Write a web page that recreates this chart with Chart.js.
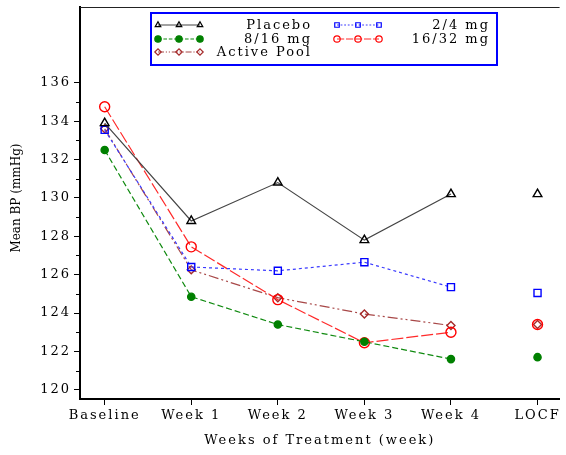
<!DOCTYPE html>
<html>
<head>
<meta charset="utf-8">
<script src="https://cdn.jsdelivr.net/npm/chart.js@4"></script>
<style>
  html, body { margin: 0; padding: 0; background: #fff; }
  #wrap { width: 566px; height: 455px; }
</style>
</head>
<body>
<div id="wrap"><canvas id="myChart" width="566" height="455"></canvas></div>
<script>
// valores
const semanas = ["Baseline", "Week 1", "Week 2", "Week 3", "Week 4", "LOCF"];
const placebo = [133.9, 128.8, 130.8, 127.8, 130.2, 130.2];
const dosis2a4 = [133.55, 126.4, 126.2, 126.65, 125.35, 125.05];
const dosis8a16 = [132.5, 124.85, 123.4, 122.5, 121.6, 121.7];
const dosis16a32 = [134.75, 127.45, 124.7, 122.45, 123.0, 123.4];
const activePool = [133.6, 126.25, 124.8, 123.95, 123.35, 123.4];
const ticksY = [120, 122, 124, 126, 128, 130, 132, 134, 136];
const ticksMenores = [121, 123, 125, 127, 129, 131, 133, 135];

const fuente = "'DejaVu Serif', 'Liberation Serif', serif";

function puntos(valores) {
  return valores.map((v, i) => ({ x: i, y: v }));
}

// LOCF va suelto, sin linea hacia el
const sinLineaLocf = {
  borderColor: (ctx) =>
    ctx.p1DataIndex === semanas.length - 1 ? "rgba(0,0,0,0)" : undefined,
};

function serie(nombre, valores, color, linea, dash, estilo, relleno, radio) {
  return {
    label: nombre,
    data: puntos(valores),
    borderColor: linea,
    borderWidth: 1.2,
    borderDash: dash,
    pointStyle: estilo,
    pointRadius: radio,
    pointBorderColor: color,
    pointBackgroundColor: relleno,
    pointBorderWidth: 1.4,
    tension: 0,
    segment: sinLineaLocf,
  };
}

const datasets = [
  serie("Placebo", placebo, "#000", "#444", [], "triangle", "rgba(0,0,0,0)", 5),
  serie("2/4 mg", dosis2a4, "#0000ff", "#3a3aff", [3, 3], "rect", "rgba(0,0,0,0)", 5),
  serie("8/16 mg", dosis8a16, "#008000", "#108a10", [6, 3], "circle", "#008000", 3.6),
  serie("16/32 mg", dosis16a32, "#ff0000", "#ff2a2a", [12, 3], "circle", "rgba(0,0,0,0)", 5),
  serie("Active Pool", activePool, "#a52a2a", "#a84848", [10, 3, 2, 3, 2, 3], "rectRot", "rgba(0,0,0,0)", 4),
];

// orden y sitio de la leyenda: [dataset, x muestra, y fila, x fin texto]
const leyenda = [
  [0, 158, 25, 312],
  [1, 337, 25, 490],
  [2, 158, 39, 312],
  [3, 337, 39, 490],
  [4, 158, 52, 312],
];

const extras = {
  id: "extras",
  beforeLayout(chart) {
    chart.ctx.letterSpacing = "2px";
  },
  beforeDraw(chart) {
    chart.ctx.letterSpacing = "2px";
  },
  afterDraw(chart) {
    const ctx = chart.ctx;
    const area = chart.chartArea;
    const y = chart.scales.y;
    ctx.save();
    // linea de arriba del marco
    ctx.strokeStyle = "#222";
    ctx.lineWidth = 1;
    ctx.beginPath();
    ctx.moveTo(area.left, area.top + 0.5);
    ctx.lineTo(area.right, area.top + 0.5);
    ctx.stroke();
    // ticks menores
    ctx.strokeStyle = "#000";
    ctx.lineWidth = 1;
    ticksMenores.forEach((v) => {
      const py = Math.round(y.getPixelForValue(v)) + 0.5;
      ctx.beginPath();
      ctx.moveTo(area.left - 4, py);
      ctx.lineTo(area.left, py);
      ctx.stroke();
    });
    // titulo eje y
    ctx.letterSpacing = "0px";
    ctx.fillStyle = "#000";
    ctx.font = "12px " + fuente;
    ctx.textAlign = "center";
    ctx.textBaseline = "middle";
    ctx.translate(17, 198);
    ctx.rotate(-Math.PI / 2);
    ctx.fillText("Mean BP (mmHg)", 0, 0);
    ctx.restore();

    // leyenda
    ctx.save();
    ctx.fillStyle = "#fff";
    ctx.fillRect(151, 13, 346, 52);
    ctx.strokeStyle = "#0000ff";
    ctx.lineWidth = 2;
    ctx.strokeRect(151, 13, 346, 52);
    leyenda.forEach(([i, x0, fy, xt]) => {
      const ds = chart.data.datasets[i];
      ctx.save();
      ctx.strokeStyle = ds.borderColor;
      ctx.lineWidth = 1.2;
      ctx.setLineDash(ds.borderDash.length ? ds.borderDash.map((d) => d * 0.6) : []);
      ctx.beginPath();
      ctx.moveTo(x0, fy);
      ctx.lineTo(x0 + 42, fy);
      ctx.stroke();
      ctx.setLineDash([]);
      ctx.strokeStyle = ds.pointBorderColor;
      ctx.fillStyle = ds.pointBackgroundColor;
      [0, 21, 42].forEach((dx) => {
        Chart.helpers.drawPoint(
          ctx,
          { pointStyle: ds.pointStyle, radius: 3.2, rotation: 0, borderWidth: 1.2 },
          x0 + dx,
          fy
        );
      });
      ctx.restore();
      ctx.letterSpacing = "2px";
      ctx.fillStyle = "#000";
      ctx.font = "13px " + fuente;
      ctx.textAlign = "right";
      ctx.textBaseline = "middle";
      ctx.fillText(ds.label, xt, fy + 1);
    });
    ctx.restore();
  },
};

const ctx = document.getElementById("myChart").getContext("2d");
const myChart = new Chart(ctx, {
  type: "line",
  data: { datasets },
  options: {
    responsive: false,
    animation: false,
    layout: { padding: { top: 7, right: 0, left: 0, bottom: 0 } },
    plugins: { legend: { display: false }, tooltip: { enabled: false } },
    scales: {
      x: {
        type: "linear",
        min: -0.285,
        max: 5.255,
        afterBuildTicks: (s) => {
          s.ticks = semanas.map((_, i) => ({ value: i }));
        },
        afterFit: (s) => {
          s.height = 56;
          s.paddingLeft = 0;
          s.paddingRight = 0;
        },
        ticks: {
          callback: (v) => semanas[v],
          color: "#000",
          font: { family: fuente, size: 13 },
          padding: 3,
          maxRotation: 0,
          autoSkip: false,
        },
        grid: { drawOnChartArea: false, tickLength: 6, color: "#000", tickWidth: 1 },
        border: { display: true, color: "#000", width: 2 },
        title: {
          display: true,
          text: "Weeks of Treatment (week)",
          color: "#000",
          font: { family: fuente, size: 13 },
          padding: { top: 4, bottom: 7 },
        },
      },
      y: {
        min: 119.52,
        max: 139.95,
        afterBuildTicks: (s) => {
          s.ticks = ticksY.map((v) => ({ value: v }));
        },
        afterFit: (s) => {
          s.width = 80;
          s.paddingTop = 0;
          s.paddingBottom = 0;
        },
        ticks: {
          color: "#000",
          font: { family: fuente, size: 13 },
          padding: 3,
        },
        grid: { drawOnChartArea: false, tickLength: 6, color: "#000", tickWidth: 1 },
        border: { display: true, color: "#000", width: 2 },
      },
    },
  },
  plugins: [extras],
});
</script>
</body>
</html>
